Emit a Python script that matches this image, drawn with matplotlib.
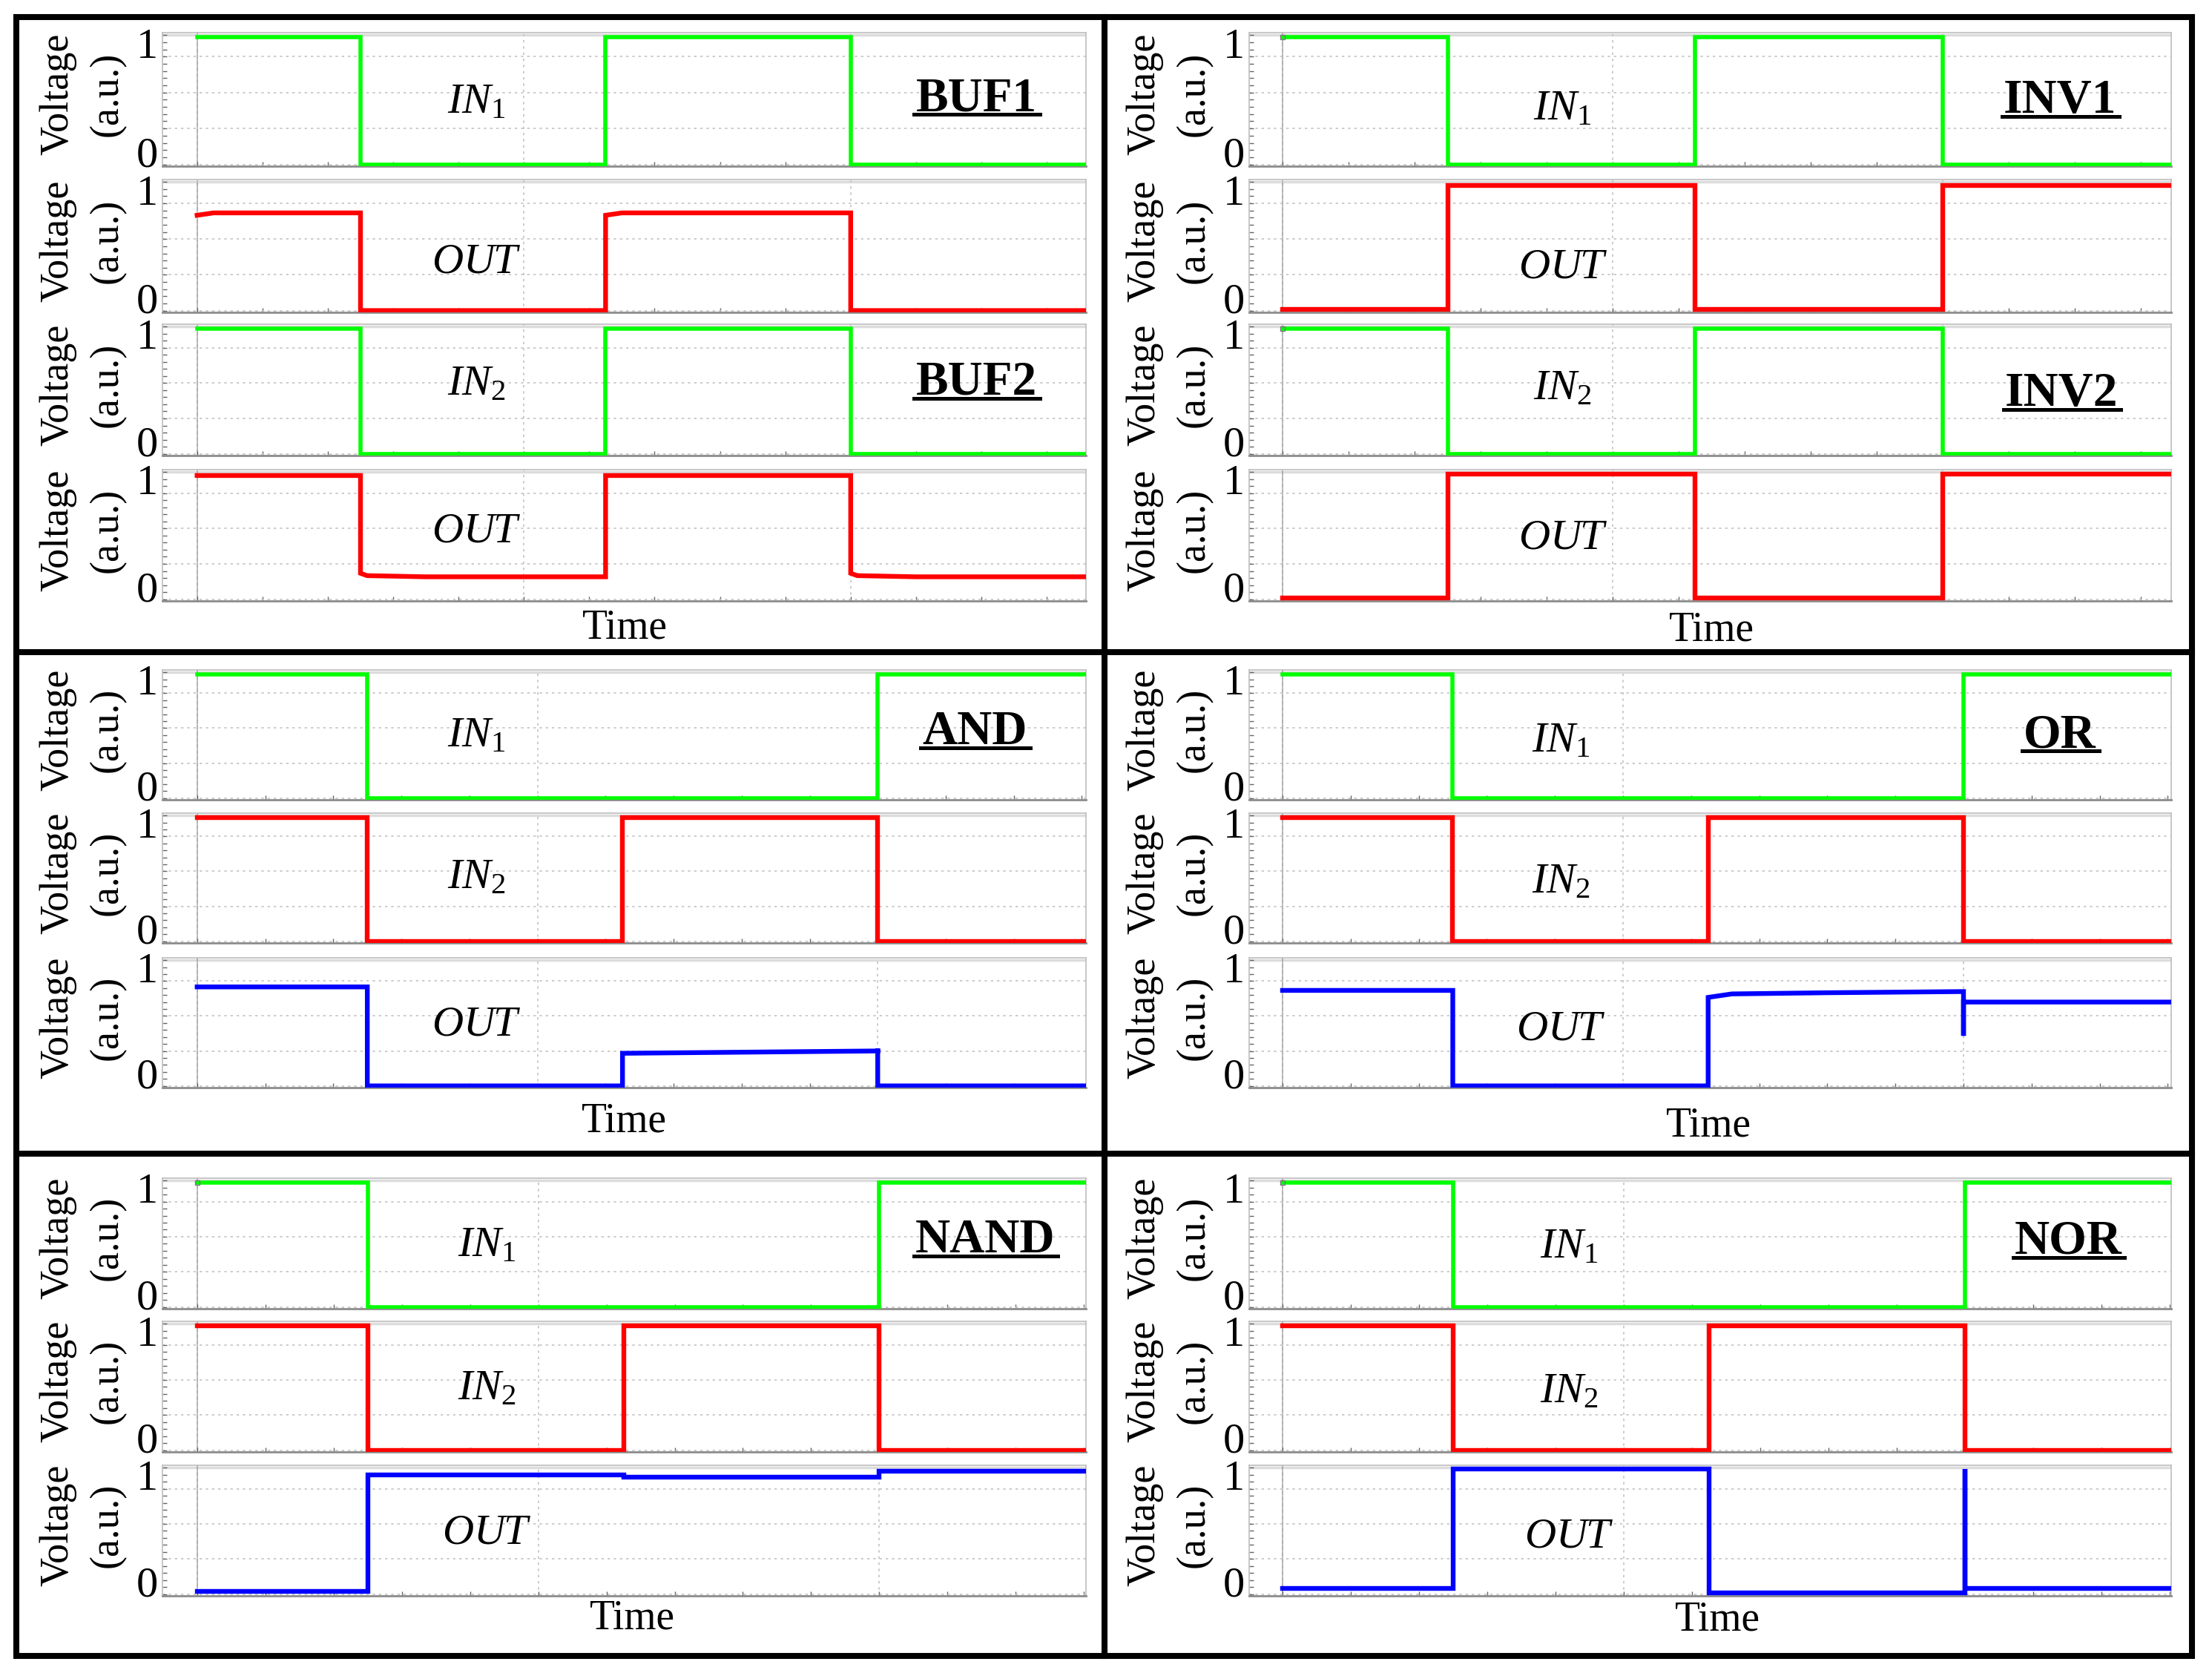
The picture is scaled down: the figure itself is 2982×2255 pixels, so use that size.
import matplotlib
matplotlib.use('Agg')
import matplotlib.pyplot as plt
from matplotlib.lines import Line2D
from matplotlib.patches import Rectangle
from matplotlib.ticker import MultipleLocator
from matplotlib.transforms import IdentityTransform

plt.rcParams['font.family'] = ['Liberation Serif', 'DejaVu Serif']
plt.rcParams['mathtext.fontset'] = 'custom'
plt.rcParams['mathtext.rm'] = 'Liberation Serif'
plt.rcParams['mathtext.it'] = 'Liberation Serif:italic'
plt.rcParams['mathtext.bf'] = 'Liberation Serif:bold'

# ---- waveforms: time (a.u.) and voltage (a.u.) vertices ----
buf_in_t = [0, 2.5, 2.5, 6.25, 6.25, 10, 10, 14]
buf_in_v = [1.06, 1.06, 0, 0, 1.06, 1.06, 0, 0]
buf1_out_t = [0, 0.25, 2.5, 2.5, 6.25, 6.25, 6.5, 10, 10, 14]
buf1_out_v = [0.80, 0.82, 0.82, 0, 0, 0.80, 0.82, 0.82, 0, 0]
buf2_out_t = [0, 2.5, 2.5, 2.6, 3.5, 6.25, 6.25, 10, 10, 10.1, 11, 14]
buf2_out_v = [1.05, 1.05, 0.22, 0.20, 0.19, 0.19, 1.05, 1.05, 0.22, 0.20, 0.19, 0.19]

inv_in_t = [0, 2.5, 2.5, 6.25, 6.25, 10, 10, 14]
inv_in_v = [1.06, 1.06, 0, 0, 1.06, 1.06, 0, 0]
inv1_out_t = [0, 2.5, 2.5, 6.25, 6.25, 10, 10, 14]
inv1_out_v = [0.01, 0.01, 1.05, 1.05, 0.01, 0.01, 1.05, 1.05]
inv2_out_t = [0, 2.5, 2.5, 6.25, 6.25, 10, 10, 14]
inv2_out_v = [0.01, 0.01, 1.06, 1.06, 0.01, 0.01, 1.06, 1.06]

# two-input gates share the same input patterns
in1_t = [0, 2.5, 2.5, 10, 10, 14]
in1_v = [1.06, 1.06, 0, 0, 1.06, 1.06]
in2_t = [0, 2.5, 2.5, 6.25, 6.25, 10, 10, 14]
in2_v = [1.06, 1.06, 0, 0, 1.06, 1.06, 0, 0]

and_out_t = [0, 2.5, 2.5, 6.25, 6.25, 10, 10, 10, 14]
and_out_v = [0.85, 0.85, 0, 0, 0.28, 0.30, 0.32, 0, 0]
or_out_t = [0, 2.5, 2.5, 6.25, 6.25, 6.6, 8, 10, 10, 10, 14]
or_out_v = [0.82, 0.82, 0, 0, 0.76, 0.79, 0.80, 0.81, 0.43, 0.72, 0.72]
nand_out_t = [0, 2.5, 2.5, 6.25, 6.25, 10, 10, 14]
nand_out_v = [0.02, 0.02, 1.02, 1.02, 1.0, 1.0, 1.05, 1.05]
nor_out_t = [0, 2.5, 2.5, 6.25, 6.25, 10, 10, 10, 14]
nor_out_v = [0.05, 0.05, 1.07, 1.07, 0.01, 0.01, 1.07, 0.05, 0.05]

GREEN, RED, BLUE = '#00ff00', '#ff0000', '#0000ff'
IN1, IN2, OUT = r'$IN_1$', r'$IN_2$', r'$OUT$'

W, H = 2982, 2255
fig = plt.figure(figsize=(W / 100, H / 100), dpi=100)
YLIM = (-0.015, 1.10)


def fx(px):
    return px / W


def fy(py):
    return 1 - py / H


def make_axes(left, right, top, bottom, xlim):
    ax = fig.add_axes([fx(left), fy(bottom), (right - left) / W, (bottom - top) / H])
    ax.set_xlim(xlim)
    ax.set_ylim(YLIM)
    ax.xaxis.set_major_locator(MultipleLocator(5))
    ax.xaxis.set_minor_locator(MultipleLocator(1))
    ax.yaxis.set_major_locator(MultipleLocator(0.3))
    ax.yaxis.set_minor_locator(MultipleLocator(0.06))
    ax.tick_params(which='both', direction='in', length=4, width=1, color='#666666',
                   labelbottom=False, labelleft=False)
    ax.grid(True, which='major', color='#c4c4c4', linestyle=(0, (2, 3)), lw=1.2)
    for s in ax.spines.values():
        s.set_color('#bdbdbd')
        s.set_linewidth(1.2)
    ax.spines['bottom'].set_color('#8c8c8c')
    ax.spines['bottom'].set_linewidth(2)
    ax.axhline(1.082, color='#dcdcdc', lw=2.5, zorder=1)
    ax.axvline(0, color='#a8a8a8', lw=1.3, zorder=1.5)
    return ax


def panel(left, right, tops, bottoms, xlim, traces, labels, lab_x, lab_y, markers=()):
    for i, ((t, v, c), lab, ly) in enumerate(zip(traces, labels, lab_y)):
        ax = make_axes(left, right, tops[i], bottoms[i], xlim)
        ax.plot(t, v, color=c, lw=4.6 if c != GREEN else 4.0, solid_joinstyle='miter', zorder=3)
        if i in markers:
            ax.plot(t[0], v[0], marker='s', ms=4, mfc='none', mec='#777777', mew=1, zorder=4)
        ax.text(lab_x, ly, lab, transform=ax.transAxes, ha='center', va='baseline', fontsize=42)
        ax.annotate('1', xy=(0, 0.89), xycoords=('axes fraction', 'data'), xytext=(-21, 0),
                    textcoords='offset pixels', ha='center', va='baseline', fontsize=42,
                    annotation_clip=False)
        ax.annotate('0', xy=(0, -0.02), xycoords=('axes fraction', 'data'), xytext=(-21, 0),
                    textcoords='offset pixels', ha='center', va='baseline', fontsize=42,
                    annotation_clip=False)
        cy = (tops[i] + bottoms[i]) / 2 - 7
        fig.text(fx(left - 141), fy(cy), 'Voltage', rotation=90, ha='center', va='center', fontsize=39)
        fig.text(fx(left - 74), fy(cy), '(a.u.)', rotation=90, ha='center', va='center', fontsize=39)


top_t, top_b = [44, 242, 437, 633], [224, 421, 614, 810]
mid_t, mid_b = [903, 1096, 1291], [1078, 1271, 1466]
bot_t, bot_b = [1588, 1781, 1975], [1764, 1957, 2151]
LL, LR, RL, RR = 219, 1464, 1684, 2927

panel(LL, LR, top_t, top_b, (-0.53, 13.60),
      [(buf_in_t, buf_in_v, GREEN), (buf1_out_t, buf1_out_v, RED),
       (buf_in_t, buf_in_v, GREEN), (buf2_out_t, buf2_out_v, RED)],
      [IN1, OUT, IN2, OUT], 0.34, [0.40, 0.30, 0.46, 0.45])
panel(RL, RR, top_t, top_b, (-0.51, 13.46),
      [(inv_in_t, inv_in_v, GREEN), (inv1_out_t, inv1_out_v, RED),
       (inv_in_t, inv_in_v, GREEN), (inv2_out_t, inv2_out_v, RED)],
      [IN1, OUT, IN2, OUT], 0.34, [0.35, 0.26, 0.43, 0.40], markers=(0, 2))
panel(LL, LR, mid_t, mid_b, (-0.51, 13.06),
      [(in1_t, in1_v, GREEN), (in2_t, in2_v, RED), (and_out_t, and_out_v, BLUE)],
      [IN1, IN2, OUT], 0.34, [0.41, 0.42, 0.40])
panel(RL, RR, mid_t, mid_b, (-0.49, 13.05),
      [(in1_t, in1_v, GREEN), (in2_t, in2_v, RED), (or_out_t, or_out_v, BLUE)],
      [IN1, IN2, OUT], 0.338, [0.37, 0.39, 0.37])
panel(LL, LR, bot_t, bot_b, (-0.51, 13.03),
      [(in1_t, in1_v, GREEN), (in2_t, in2_v, RED), (nand_out_t, nand_out_v, BLUE)],
      [IN1, IN2, OUT], 0.351, [0.40, 0.40, 0.40], markers=(0,))
panel(RL, RR, bot_t, bot_b, (-0.49, 13.02),
      [(in1_t, in1_v, GREEN), (in2_t, in2_v, RED), (nor_out_t, nor_out_v, BLUE)],
      [IN1, IN2, OUT], 0.347, [0.39, 0.38, 0.37], markers=(0,))

# gate names (underlined) and time labels
titles = []
for name, x, base in [('BUF1', 1316, 149), ('BUF2', 1316, 532), ('INV1', 2777, 152),
                      ('INV2', 2779, 547), ('AND', 1314, 1003), ('OR', 2777, 1007),
                      ('NAND', 1328, 1688), ('NOR', 2788, 1690)]:
    titles.append((fig.text(fx(x), fy(base), name, fontweight='bold', fontsize=47,
                            ha='center', va='baseline'), base))

for x, y in [(842, 846), (2307, 850), (841, 1512), (2303, 1518), (852, 2181), (2315, 2183)]:
    fig.text(fx(x), fy(y), 'Time', ha='center', va='center', fontsize=40)

# black frames
fig.add_artist(Rectangle((fx(22), fy(2232)), (2955 - 22) / W, (2232 - 23) / H, fill=False,
                         ec='black', lw=5.8, joinstyle='miter', transform=fig.transFigure))
fig.add_artist(Line2D([fx(1489), fx(1489)], [fy(23), fy(2232)], color='black', lw=5.8,
                      transform=fig.transFigure))
for y in (879, 1555):
    fig.add_artist(Line2D([fx(22), fx(2955)], [fy(y), fy(y)], color='black', lw=5.8,
                          transform=fig.transFigure))

fig.canvas.draw()
r = fig.canvas.get_renderer()
for t, base in titles:
    bb = t.get_window_extent(r)
    yy = H - (base + 5)
    fig.add_artist(Line2D([bb.x0 - 2, bb.x1 + 4], [yy, yy], color='black', lw=3.6,
                          transform=IdentityTransform()))

fig.savefig('out.png', dpi=100, facecolor='white')
